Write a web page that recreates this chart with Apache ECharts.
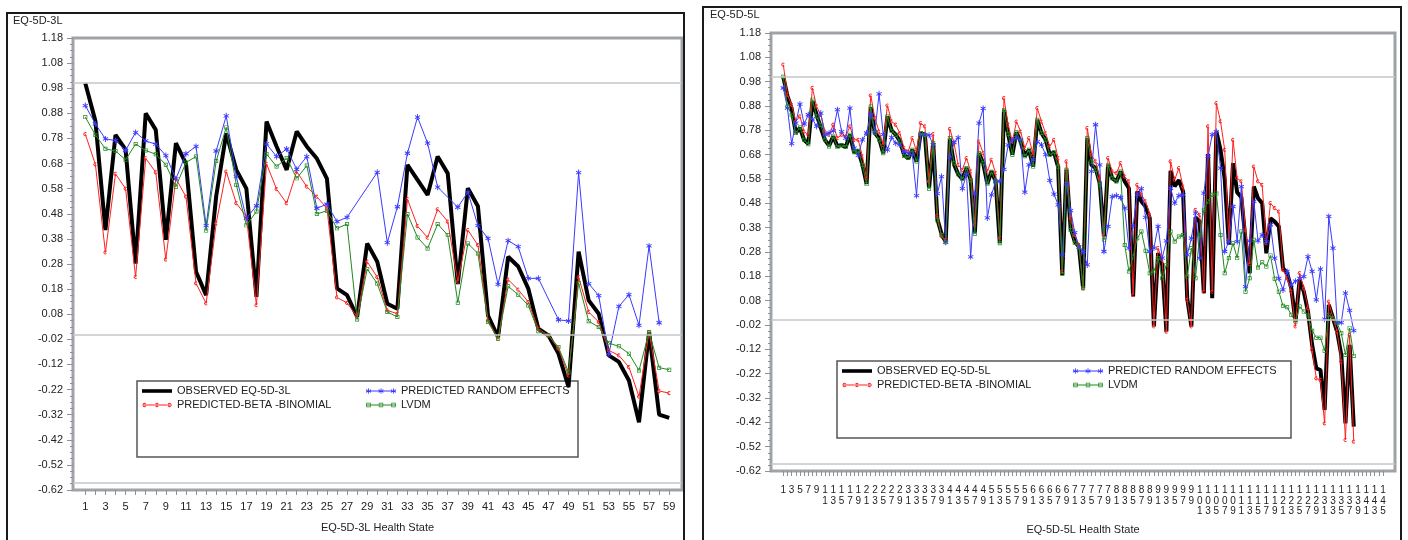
<!DOCTYPE html>
<html>
<head>
<meta charset="utf-8">
<script src="https://cdn.jsdelivr.net/npm/echarts@6/dist/echarts.min.js"></script>
<style>
  html, body { margin: 0; padding: 0; background: #fff; }
  #chart { width: 1408px; height: 540px; }
</style>
</head>
<body>
<div id="chart"></div>
<script>
// ---- Value axis tick labels (both panels share the utility scale) ----
const yTickValues = [-0.62, -0.52, -0.42, -0.32, -0.22, -0.12, -0.02, 0.08, 0.18, 0.28,
                     0.38, 0.48, 0.58, 0.68, 0.78, 0.88, 0.98, 1.08, 1.18];
// Reference utilities: full health, death, and the worst EQ-5D-3L state
const refLines = [1, 0, -0.594];

// ---- EQ-5D-3L panel ----
const xLabels3L = [1, 3, 5, 7, 9, 11, 13, 15, 17, 19, 21, 23, 25, 27, 29, 31, 33, 35, 37, 39,
                   41, 43, 45, 47, 49, 51, 53, 55, 57, 59];
const observed3L = [1.00, 0.85, 0.415, 0.794, 0.735, 0.282, 0.88, 0.814, 0.376, 0.761,
                    0.68, 0.249, 0.156, 0.55, 0.80, 0.655, 0.58, 0.149, 0.847, 0.748,
                    0.655, 0.808, 0.748, 0.70, 0.62, 0.183, 0.156, 0.07, 0.362, 0.289,
                    0.122, 0.102, 0.675, 0.615, 0.555, 0.708, 0.641, 0.20, 0.582, 0.51,
                    0.075, -0.011, 0.309, 0.27, 0.182, 0.022, -0.004, -0.077, -0.21, 0.329,
                    0.135, 0.082, -0.084, -0.11, -0.184, -0.35, 0.009, -0.32, -0.333];
const betaBin3L = [0.797, 0.677, 0.326, 0.639, 0.58, 0.229, 0.701, 0.645, 0.298, 0.62,
                   0.548, 0.203, 0.123, 0.442, 0.648, 0.522, 0.469, 0.116, 0.679, 0.578,
                   0.522, 0.648, 0.588, 0.548, 0.502, 0.147, 0.125, 0.07, 0.289, 0.228,
                   0.095, 0.082, 0.538, 0.431, 0.385, 0.498, 0.449, 0.21, 0.415, 0.355,
                   0.056, -0.018, 0.218, 0.178, 0.129, 0.022, -0.004, -0.057, -0.164, 0.228,
                   0.089, 0.049, -0.064, -0.084, -0.131, -0.248, 0.009, -0.226, -0.234];
const randEff3L = [0.911, 0.838, 0.778, 0.772, 0.732, 0.804, 0.77, 0.757, 0.712, 0.619,
                   0.719, 0.748, 0.433, 0.73, 0.87, 0.628, 0.462, 0.512, 0.758, 0.708,
                   0.738, 0.657, 0.708, 0.502, 0.518, 0.449, 0.466, null, null, 0.645,
                   0.365, 0.508, 0.721, 0.865, 0.761, 0.586, null, 0.506, 0.566, 0.433,
                   0.382, 0.199, 0.373, 0.349, 0.223, 0.223, null, 0.058, 0.053, 0.644,
                   0.202, 0.154, -0.08, 0.111, 0.158, 0.036, 0.352, 0.046, null];
const lvdm3L = [0.865, 0.794, 0.739, 0.73, 0.695, 0.758, 0.732, 0.717, 0.675, 0.588,
                0.684, 0.708, 0.413, 0.69, 0.824, 0.595, 0.434, 0.489, 0.718, 0.668,
                0.702, 0.621, 0.672, 0.479, 0.492, 0.422, 0.439, 0.059, 0.26, 0.202,
                0.089, 0.069, 0.479, 0.386, 0.342, 0.439, 0.395, 0.126, 0.362, 0.322,
                0.049, -0.018, 0.191, 0.158, 0.115, 0.012, -0.004, -0.051, -0.151, 0.204,
                0.052, 0.029, -0.035, -0.048, -0.077, -0.144, 0.009, -0.133, -0.141];

// ---- EQ-5D-5L panel ----
const xLabels5L = [1, 3, 5, 7, 9, 11, 13, 15, 17, 19, 21, 23, 25, 27, 29, 31, 33, 35, 37, 39,
                   41, 43, 45, 47, 49, 51, 53, 55, 57, 59, 61, 63, 65, 67, 69, 71, 73, 75, 77, 79,
                   81, 83, 85, 87, 89, 91, 93, 95, 97, 99, 101, 103, 105, 107, 109, 111, 113, 115,
                   117, 119, 121, 123, 125, 127, 129, 131, 133, 135, 137, 139, 141, 143, 145];
const observed5L = [1.00, 0.92, 0.87, 0.77, 0.79, 0.74, 0.725, 0.90, 0.845, 0.79,
                    0.74, 0.717, 0.755, 0.714, 0.72, 0.711, 0.762, 0.69, 0.696, 0.64,
                    0.56, 0.875, 0.769, 0.748, 0.686, 0.837, 0.78, 0.762, 0.737, 0.68,
                    0.664, 0.70, 0.652, 0.769, 0.762, 0.543, 0.727, 0.415, 0.355, 0.322,
                    0.745, 0.64, 0.60, 0.58, 0.625, 0.577, 0.357, 0.686, 0.645, 0.56,
                    0.612, 0.57, 0.316, 0.864, 0.765, 0.68, 0.772, 0.734, 0.673, 0.70,
                    0.631, 0.823, 0.769, 0.741, 0.68, 0.69, 0.63, 0.186, 0.618, 0.378,
                    0.323, 0.302, 0.131, 0.748, 0.638, 0.625, 0.563, 0.344, 0.638, 0.583,
                    0.57, 0.611, 0.57, 0.542, 0.097, 0.529, 0.488, 0.467, 0.419, -0.026,
                    0.275, 0.227, -0.047, 0.614, 0.55, 0.575, 0.529, 0.09, -0.026, 0.422,
                    0.405, 0.111, 0.683, 0.09, 0.775, 0.70, 0.58, 0.31, 0.645, 0.525,
                    0.505, 0.33, 0.193, 0.549, 0.501, 0.481, 0.275, 0.419, 0.405, 0.385,
                    0.213, 0.193, 0.131, -0.006, 0.165, 0.117, 0.035, -0.102, -0.198, -0.205,
                    -0.369, 0.063, 0.008, -0.047, -0.143, -0.424, -0.102, -0.438];
const betaBin5L = [1.05, 0.926, 0.885, 0.817, 0.837, 0.775, 0.762, 0.954, 0.878, 0.844,
                   0.775, 0.762, 0.803, 0.748, 0.762, 0.755, 0.796, 0.741, 0.741, 0.673,
                   0.583, 0.923, 0.83, 0.775, 0.72, 0.882, 0.817, 0.803, 0.768, 0.707,
                   0.693, 0.748, 0.693, 0.81, 0.796, 0.57, 0.764, 0.43, 0.344, 0.33,
                   0.786, 0.727, 0.638, 0.618, 0.666, 0.611, 0.392, 0.734, 0.686, 0.611,
                   0.659, 0.604, 0.337, 0.912, 0.803, 0.734, 0.816, 0.775, 0.707, 0.748,
                   0.679, 0.871, 0.816, 0.768, 0.714, 0.741, 0.666, 0.20, 0.652, 0.419,
                   0.35, 0.309, 0.131, 0.789, 0.679, 0.652, 0.583, 0.35, 0.666, 0.611,
                   0.604, 0.645, 0.59, 0.57, 0.104, 0.556, 0.515, 0.488, 0.433, -0.026,
                   0.296, 0.248, -0.047, 0.652, 0.577, 0.625, 0.549, 0.083, -0.026, 0.453,
                   0.433, 0.117, 0.796, 0.117, 0.892, 0.817, 0.70, 0.33, 0.741, 0.583,
                   0.57, 0.37, 0.23, 0.631, 0.57, 0.556, 0.316, 0.481, 0.46, 0.446,
                   0.207, 0.172, 0.117, -0.026, 0.193, 0.131, 0.049, -0.122, -0.239, -0.246,
                   -0.424, 0.076, 0.008, -0.047, -0.17, -0.492, -0.061, -0.499];
const randEff5L = [0.954, 0.871, 0.725, 0.81, 0.888, 0.806, 0.844, 0.827, 0.796, 0.851,
                   0.762, 0.769, 0.778, 0.865, 0.775, 0.748, 0.871, 0.707, 0.677, 0.741,
                   0.769, 0.844, 0.775, 0.93, 0.762, 0.70, 0.751, 0.727, 0.72, 0.693,
                   0.686, 0.679, 0.512, 0.762, 0.762, 0.76, 0.72, 0.52, 0.59, 0.32,
                   0.67, 0.73, 0.75, 0.54, 0.60, 0.26, 0.52, 0.81, 0.87, 0.42,
                   0.515, 0.57, 0.57, 0.62, 0.72, 0.74, 0.75, 0.74, 0.526, 0.638,
                   0.66, 0.734, 0.72, 0.68, 0.574, 0.518, 0.474, 0.268, 0.56, 0.45,
                   0.36, 0.30, 0.282, 0.227, 0.611, 0.803, 0.638, 0.282, 0.385, 0.508,
                   0.512, 0.504, 0.46, 0.296, 0.388, 0.515, 0.54, 0.422, 0.282, 0.296,
                   0.385, 0.255, 0.326, 0.542, 0.481, 0.512, 0.515, 0.268, 0.337, 0.44,
                   0.255, 0.522, 0.673, 0.762, 0.775, 0.625, 0.282, 0.323, 0.467, 0.323,
                   0.549, 0.138, 0.326, 0.488, 0.326, 0.35, 0.323, 0.392, 0.255, 0.172,
                   0.124, 0.2, 0.145, 0.16, 0.172, 0.179, 0.261, 0.2, 0.083, 0.21,
                   0.004, 0.426, 0.296, -0.01, -0.01, 0.111, 0.04, -0.043];
const lvdm5L = [1.00, 0.878, 0.844, 0.769, 0.792, 0.741, 0.723, 0.906, 0.837, 0.803,
                0.741, 0.714, 0.755, 0.711, 0.72, 0.711, 0.762, 0.69, 0.696, 0.638,
                0.559, 0.878, 0.769, 0.741, 0.686, 0.837, 0.778, 0.762, 0.734, 0.675,
                0.666, 0.70, 0.652, 0.769, 0.762, 0.54, 0.727, 0.41, 0.35, 0.32,
                0.748, 0.645, 0.60, 0.58, 0.625, 0.575, 0.355, 0.686, 0.645, 0.56,
                0.61, 0.57, 0.316, 0.864, 0.765, 0.68, 0.772, 0.734, 0.673, 0.70,
                0.631, 0.823, 0.769, 0.741, 0.68, 0.69, 0.63, 0.19, 0.618, 0.37,
                0.318, 0.30, 0.131, 0.748, 0.652, 0.618, 0.556, 0.33, 0.638, 0.583,
                0.57, 0.611, 0.309, 0.2, 0.261, 0.337, 0.364, 0.285, 0.193, 0.2,
                0.255, 0.172, 0.227, 0.364, 0.323, 0.344, 0.35, 0.179, 0.296, 0.172,
                0.35, 0.453, 0.488, 0.515, 0.52, 0.35, 0.193, 0.255, 0.316, 0.255,
                0.364, 0.117, 0.172, 0.33, 0.216, 0.238, 0.22, 0.266, 0.17, 0.117,
                0.059, 0.053, 0.022, -0.006, 0.056, 0.035, 0.019, -0.044, -0.072, -0.072,
                -0.126, 0.022, 0.008, -0.013, -0.054, -0.143, -0.033, -0.147];

// ---- Series names ----
const NAME_OBS_3L = 'OBSERVED EQ-5D-3L';
const NAME_OBS_5L = 'OBSERVED EQ-5D-5L';
const NAME_BB = 'PREDICTED-BETA -BINOMIAL';
const NAME_RE = 'PREDICTED RANDOM EFFECTS';
const NAME_LVDM = 'LVDM';

const COL_OBS = '#000000', COL_BB = '#ff2020', COL_RE = '#3a3aff', COL_LVDM = '#1f8a1f';
const FONT = '"Liberation Sans", Arial, Helvetica, sans-serif';

// ---- Marker shapes (SVG path fragments) ----
const f = (n) => +n.toFixed(3);
function cMark(cx, cy, r) {            // small open "c"
  const a = Math.SQRT1_2, ri = r * 0.55;
  return `M${f(cx + r * a)},${f(cy - r * a)}A${r},${r} 0 1 0 ${f(cx + r * a)},${f(cy + r * a)}` +
         `L${f(cx + ri * a)},${f(cy + ri * a)}A${f(ri)},${f(ri)} 0 1 1 ${f(cx + ri * a)},${f(cy - ri * a)}Z`;
}
function starMark(cx, cy, r, w) {      // six-armed asterisk
  let p = '';
  [90, 30, 150].forEach(deg => {
    const t = deg * Math.PI / 180, dx = r * Math.cos(t), dy = r * Math.sin(t);
    const px = -Math.sin(t) * w, py = Math.cos(t) * w;
    p += `M${f(cx + dx + px)},${f(cy + dy + py)}L${f(cx + dx - px)},${f(cy + dy - py)}` +
         `L${f(cx - dx - px)},${f(cy - dy - py)}L${f(cx - dx + px)},${f(cy - dy + py)}Z`;
  });
  return p;
}
function squareMark(cx, cy, s, t) {    // open square
  return `M${f(cx - s)},${f(cy - s)}H${f(cx + s)}V${f(cy + s)}H${f(cx - s)}Z` +
         `M${f(cx - s + t)},${f(cy - s + t)}V${f(cy + s - t)}H${f(cx + s - t)}V${f(cy - s + t)}Z`;
}
const anchor = (w, h) => `M0,0M${w},${h}`;
const symC = 'path://M-2,-2M2,2' + cMark(0, 0, 2);
const symStar = 'path://M-3,-3M3,3' + starMark(0, 0, 3, 0.45);
const symSquare = 'path://M-2,-2M2,2' + squareMark(0, 0, 2, 0.7);

// Legend icons (30 x 8 box): a line with three markers
const thinLine = 'M0,3.5H30V4.5H0Z';
const iconObs = 'path://' + anchor(30, 8) + 'M0,2.2H30V5.8H0Z';
const iconBB = 'path://' + anchor(30, 8) + thinLine + [2.5, 15, 27.5].map(x => cMark(x, 4, 2.2)).join('');
const iconRE = 'path://' + anchor(30, 8) + thinLine + [2.5, 15, 27.5].map(x => starMark(x, 4, 2.8, 0.4)).join('');
const iconLVDM = 'path://' + anchor(30, 8) + thinLine + [2.5, 15, 27.5].map(x => squareMark(x, 4, 2.2, 0.7)).join('');

// Minor ticks: three between each labelled value
const minorTicks = [];
for (let i = 0; i < yTickValues.length - 1; i++) {
  for (let k = 1; k <= 3; k++) minorTicks.push(+(yTickValues[i] + k * 0.025).toFixed(4));
}

const toPts = (arr) => arr.map((v, i) => [i + 1, v]);
const ints = (n) => Array.from({ length: n }, (_, i) => i + 1);

const grids = [
  { left: 73, top: 38, width: 609, height: 452 },
  { left: 771, top: 33, width: 624, height: 438 }
];

function yAxesFor(gi) {
  return [
    {
      type: 'value', gridIndex: gi, position: 'left', min: -0.62, max: 1.18,
      axisLine: { show: false, onZero: false }, splitLine: { show: false },
      axisTick: { show: true, customValues: yTickValues, length: 6, lineStyle: { color: '#8e9296', width: 1 } },
      axisLabel: { customValues: yTickValues, formatter: v => v.toFixed(2), fontSize: 11, color: '#222', margin: 10, fontFamily: FONT }
    },
    {
      type: 'value', gridIndex: gi, position: 'left', min: -0.62, max: 1.18,
      axisLine: { show: false, onZero: false }, splitLine: { show: false },
      axisTick: { show: true, customValues: minorTicks, length: 3, lineStyle: { color: '#8e9296', width: 1 } },
      axisLabel: { show: false }
    }
  ];
}

function line(name, data, xi, yi, color, width, symbol, size) {
  return {
    type: 'line', name, xAxisIndex: xi, yAxisIndex: yi, data: toPts(data),
    connectNulls: true, animation: false, silent: true,
    lineStyle: { color, width },
    itemStyle: { color, borderWidth: 0 },
    symbol: symbol || 'none', symbolSize: size || 4, showSymbol: !!symbol
  };
}

function refMark() {
  return {
    silent: true, symbol: ['none', 'none'], animation: false,
    label: { show: false },
    lineStyle: { color: '#c3c6ca', width: 1.5, type: 'solid' },
    data: refLines.map(v => ({ yAxis: v }))
  };
}

const s3obs = line(NAME_OBS_3L, observed3L, 0, 0, COL_OBS, 4);
s3obs.markLine = refMark();
const s5obs = line(NAME_OBS_5L, observed5L, 1, 2, COL_OBS, 4);
s5obs.markLine = refMark();

function legendFor(left, top, items) {
  return {
    orient: 'vertical', left, top, padding: 0, itemGap: 0,
    itemWidth: 30, itemHeight: 8, selectedMode: false,
    textStyle: { fontSize: 11, color: '#222', fontFamily: FONT, lineHeight: 14 },
    data: items.map(it => ({ name: it[0], icon: it[1], itemStyle: { color: it[2], borderWidth: 0 } }))
  };
}

const option = {
  animation: false,
  backgroundColor: '#ffffff',
  textStyle: { fontFamily: FONT },
  title: [
    { text: 'EQ-5D-3L', left: 13, top: 15, padding: 0, textStyle: { fontSize: 11, fontWeight: 'normal', color: '#222', fontFamily: FONT } },
    { text: 'EQ-5D-5L', left: 710, top: 9, padding: 0, textStyle: { fontSize: 11, fontWeight: 'normal', color: '#222', fontFamily: FONT } }
  ],
  grid: grids.map(g => Object.assign({ show: true, borderColor: '#9fa3a7', borderWidth: 3, backgroundColor: '#ffffff' }, g)),
  xAxis: [
    {
      type: 'value', gridIndex: 0, position: 'bottom', min: -0.222, max: 60.27,
      name: 'EQ-5D-3L Health State', nameLocation: 'middle', nameGap: 32,
      nameTextStyle: { fontSize: 11, color: '#222', fontFamily: FONT },
      axisLine: { show: false, onZero: false }, splitLine: { show: false },
      axisTick: { show: true, customValues: ints(59), length: 5, lineStyle: { color: '#8e9296' } },
      axisLabel: { customValues: xLabels3L, fontSize: 11, color: '#222', margin: 11, fontFamily: FONT }
    },
    {
      type: 'value', gridIndex: 1, position: 'bottom', min: -1.954, max: 147.9,
      name: 'EQ-5D-5L Health State', nameLocation: 'middle', nameGap: 53,
      nameTextStyle: { fontSize: 11, color: '#222', fontFamily: FONT },
      axisLine: { show: false, onZero: false }, splitLine: { show: false },
      axisTick: { show: true, customValues: ints(145), length: 5, lineStyle: { color: '#8e9296' } },
      axisLabel: {
        customValues: xLabels5L, fontSize: 10, lineHeight: 10.5, color: '#222', margin: 14, fontFamily: FONT,
        formatter: v => String(Math.round(v)).split('').join('\n')
      }
    }
  ],
  yAxis: [...yAxesFor(0), ...yAxesFor(1)],
  legend: [
    legendFor(142, 384, [[NAME_OBS_3L, iconObs, COL_OBS], [NAME_BB, iconBB, COL_BB]]),
    legendFor(366, 384, [[NAME_RE, iconRE, COL_RE], [NAME_LVDM, iconLVDM, COL_LVDM]]),
    legendFor(842, 364, [[NAME_OBS_5L, iconObs, COL_OBS], [NAME_BB, iconBB, COL_BB]]),
    legendFor(1073, 364, [[NAME_RE, iconRE, COL_RE], [NAME_LVDM, iconLVDM, COL_LVDM]])
  ],
  graphic: [
    { type: 'rect', z: 0, silent: true, shape: { x: 7, y: 13, width: 677, height: 560 }, style: { fill: 'none', stroke: '#1a1a1a', lineWidth: 2 } },
    { type: 'rect', z: 0, silent: true, shape: { x: 703, y: 7, width: 698, height: 560 }, style: { fill: 'none', stroke: '#1a1a1a', lineWidth: 2 } },
    { type: 'rect', z: 3, silent: true, shape: { x: 137, y: 381, width: 441, height: 76 }, style: { fill: '#ffffff', stroke: '#555555', lineWidth: 1.5 } },
    { type: 'rect', z: 3, silent: true, shape: { x: 837, y: 361, width: 454, height: 77 }, style: { fill: '#ffffff', stroke: '#555555', lineWidth: 1.5 } }
  ],
  series: [
    s3obs,
    line(NAME_BB, betaBin3L, 0, 0, COL_BB, 1, symC, 4),
    line(NAME_RE, randEff3L, 0, 0, COL_RE, 1, symStar, 6),
    line(NAME_LVDM, lvdm3L, 0, 0, COL_LVDM, 1, symSquare, 4),
    s5obs,
    line(NAME_BB, betaBin5L, 1, 2, COL_BB, 1, symC, 4),
    line(NAME_RE, randEff5L, 1, 2, COL_RE, 1, symStar, 6),
    line(NAME_LVDM, lvdm5L, 1, 2, COL_LVDM, 1, symSquare, 4)
  ]
};

const chart = echarts.init(document.getElementById('chart'), null, { renderer: 'canvas' });
chart.setOption(option);
</script>
</body>
</html>
